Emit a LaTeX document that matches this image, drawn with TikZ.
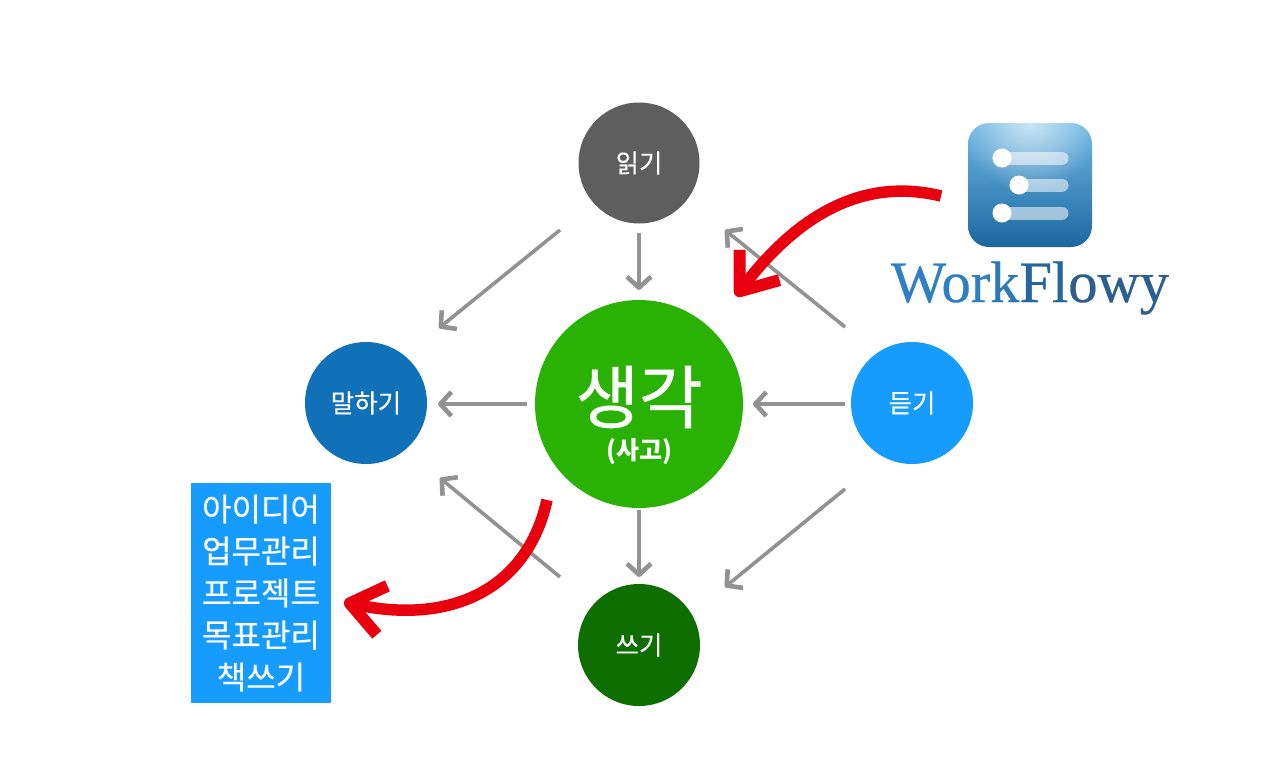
\documentclass[tikz,border=0pt]{standalone}
\usepackage{fontspec}
\setmainfont{Noto Sans CJK KR}
\newfontfamily\medfont[FakeBold=0.6]{Noto Sans CJK KR}
\newfontfamily\lightfake[FakeBold=0.3]{Noto Sans CJK KR}
\newfontfamily\logofont[FakeBold=0.5]{Liberation Serif}
\usetikzlibrary{arrows.meta,fadings}
\definecolor{greyline}{HTML}{929292}
\definecolor{redline}{HTML}{E8000F}
\definecolor{boxblue}{HTML}{169CFF}
\definecolor{speakblue}{HTML}{1070B8}
\definecolor{readgrey}{HTML}{5E5E5E}
\definecolor{writegreen}{HTML}{0F6E00}
\definecolor{thinkgreen}{HTML}{29B204}
\definecolor{logoTop}{HTML}{6DB7E4}
\definecolor{logoMid}{HTML}{4A94C8}
\definecolor{logoBot}{HTML}{1C67A0}
\definecolor{logoA}{HTML}{2F7FC4}
\definecolor{logoB}{HTML}{26669F}
\definecolor{logoC}{HTML}{2B5F8F}
\tikzfading[name=logoglow,inner color=transparent!35,outer color=transparent!100]
\tikzset{
  sat/.style={circle,minimum size=122pt,inner sep=0pt,text=white,font=\lightfake\fontsize{25.5}{30}\selectfont},
  greyarrow/.style={draw=greyline,line width=3.6pt,-{Straight Barb[length=11pt,width=24pt,line width=4.6pt,line cap=butt,line join=round]}},
  redarrow/.style={draw=redline,line width=11.5pt,-{Straight Barb[length=33pt,width=50pt,line width=12pt,line cap=butt,line join=round]}},
  logobar/.style={draw=white,draw opacity=.55,line width=13pt,line cap=round},
  logodot/.style={circle,fill=white,minimum size=19pt,inner sep=0pt}
}
\begin{document}
\begin{tikzpicture}[x=1pt,y=-1pt]
\useasboundingbox (0,0) rectangle (1280,782);
\fill[white] (0,0) rectangle (1280,782);

% grey connector ends
\coordinate (r1) at (560,230); \coordinate (r1e) at (439,328);
\coordinate (r2) at (639,233); \coordinate (r2e) at (639,290);
\coordinate (r3) at (527,404); \coordinate (r3e) at (438,404);
\coordinate (r4) at (845,404); \coordinate (r4e) at (753,404);
\coordinate (r5) at (845,327); \coordinate (r5e) at (725,230);
\coordinate (r6) at (845,489); \coordinate (r6e) at (725,587);
\coordinate (r7) at (639,510); \coordinate (r7e) at (639,577);
\coordinate (r8) at (560,577); \coordinate (r8e) at (440,478);

\node[sat,fill=readgrey,minimum size=121pt] (read) at (639,163) {읽기};
\node[sat,fill=speakblue] (speak) at (366,403) {말하기};
\node[sat,fill=boxblue] (listen) at (912,403) {듣기};
\node[sat,fill=writegreen] (write) at (639,645) {쓰기};
\node[circle,fill=thinkgreen,minimum size=208pt,inner sep=0pt] (think) at (639,404) {};
\node[text=white,font=\medfont\fontsize{69}{69}\selectfont] (thinkt) at (639,397) {생각};
\node[text=white,font=\bfseries\fontsize{25}{30}\selectfont] (thinks) at (639,452) {(사고)};

\foreach \a in {r1,r2,r3,r4,r5,r6,r7,r8} \draw[greyarrow] (\a) -- (\a e);

\node[fill=boxblue,minimum width=140pt,minimum height=220pt,inner sep=0pt,text=white,align=center,
  font=\lightfake\fontsize{32}{42}\selectfont] (uses) at (261,593)
  {아이디어\\업무관리\\프로젝트\\목표관리\\책쓰기};

% WorkFlowy logo
\node[rounded corners=21pt,minimum size=124pt,inner sep=0pt,
  top color=logoTop,middle color=logoMid,bottom color=logoBot] (logo) at (1030,185) {};
\begin{scope}
  \clip[rounded corners=21pt] (logo.south west) rectangle (logo.north east);
  \fill[white,path fading=logoglow] (logo.north) circle (70pt);
\end{scope}
\coordinate (b1s) at (1002,158); \coordinate (b1e) at (1062,158);
\coordinate (b2s) at (1019,185); \coordinate (b2e) at (1062,185);
\coordinate (b3s) at (1002,213); \coordinate (b3e) at (1062,213);
\draw[logobar] (b1s) -- (b1e);
\draw[logobar] (b2s) -- (b2e);
\draw[logobar] (b3s) -- (b3e);
\node[logodot] (d1) at (b1s) {};
\node[logodot] (d2) at (b2s) {};
\node[logodot] (d3) at (b3s) {};
\node[anchor=base,inner sep=0pt,font=\logofont\fontsize{58.5}{58}\selectfont] (wf) at (1030,302)
 {\textcolor{logoA}{Wor}\textcolor{logoA!70!logoB}{k}\textcolor{logoB}{Fl}\textcolor{logoC}{owy}};

% red curves
\coordinate (ra) at (941,196); \coordinate (rb) at (736,296);
\coordinate (rc) at (547,500); \coordinate (rd) at (344,602);
\draw[redarrow] (ra) .. controls (855,175) and (790,225) .. (rb);
\draw[redarrow] (rc) .. controls (527,590) and (450,625) .. (rd);
\end{tikzpicture}
\end{document}
